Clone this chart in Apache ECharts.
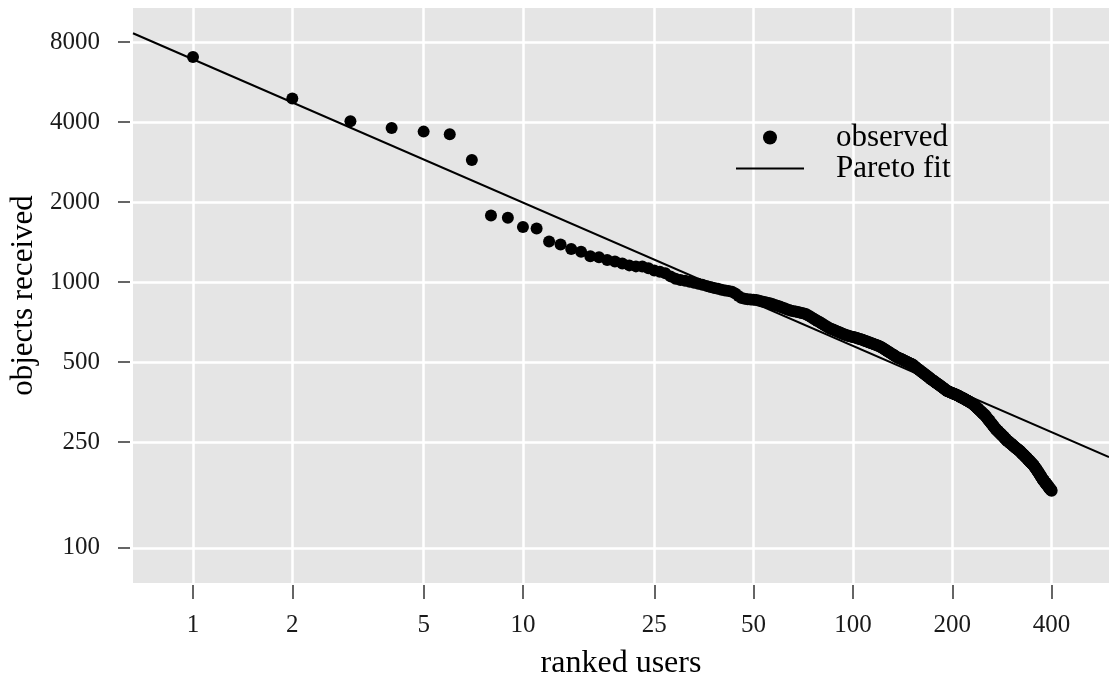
<!DOCTYPE html>
<html>
<head>
<meta charset="utf-8">
<script src="https://cdn.jsdelivr.net/npm/echarts@6/dist/echarts.min.js"></script>
<style>
  html, body { margin: 0; padding: 0; background: #ffffff; }
  #chart { width: 1109px; height: 681px; }
</style>
</head>
<body>
<div id="chart"></div>
<script>
// Objects received per user, users sorted by rank (rank = position + 1)
const objectsReceived = [
  7030, 4900, 4030, 3800, 3680, 3600, 2880, 1780, 1745, 1610,
  1590, 1420, 1385, 1330, 1300, 1250, 1240, 1210, 1195, 1175,
  1155, 1145, 1143, 1126, 1105, 1093, 1078, 1050, 1028, 1018,
  1010, 1002, 993, 985, 976, 967, 958, 950, 943, 936,
  929, 925, 920, 905, 885, 870, 865, 862, 860, 858,
  855, 850, 845, 841, 836, 832, 827, 820, 814, 808,
  802, 796, 790, 784, 780, 777, 774, 771, 768, 765,
  761, 758, 750, 743, 735, 728, 721, 714, 708, 701,
  695, 688, 682, 676, 670, 666, 662, 658, 654, 650,
  647, 643, 639, 636, 632, 630, 627, 625, 623, 621,
  619, 617, 615, 612, 610, 608, 606, 603, 600, 598,
  595, 593, 590, 588, 586, 583, 581, 579, 576, 574,
  571, 568, 564, 561, 557, 554, 550, 547, 544, 540,
  537, 534, 531, 527, 524, 521, 519, 517, 515, 513,
  511, 509, 506, 504, 502, 500, 498, 496, 494, 492,
  490, 488, 484, 481, 478, 475, 472, 469, 467, 464,
  461, 458, 456, 453, 450, 448, 445, 442, 440, 437,
  435, 432, 430, 428, 426, 423, 421, 419, 417, 415,
  413, 411, 409, 407, 405, 403, 401, 399, 397, 395,
  393, 391, 389, 388, 387, 386, 385, 384, 383, 382,
  381, 380, 379, 378, 377, 376, 375, 374, 373, 372,
  370, 369, 368, 367, 366, 365, 364, 363, 361, 360,
  359, 358, 357, 356, 355, 353, 352, 351, 350, 349,
  348, 346, 344, 343, 341, 339, 338, 336, 334, 333,
  331, 329, 328, 326, 325, 323, 321, 320, 318, 317,
  315, 314, 312, 310, 308, 306, 304, 302, 301, 299,
  297, 295, 293, 292, 290, 288, 286, 285, 283, 281,
  280, 278, 277, 276, 275, 273, 272, 271, 270, 269,
  267, 266, 265, 264, 263, 262, 260, 259, 258, 257,
  256, 254, 253, 252, 252, 251, 250, 249, 248, 247,
  247, 246, 245, 244, 243, 242, 241, 241, 240, 239,
  238, 237, 237, 236, 235, 235, 234, 233, 232, 232,
  231, 230, 229, 228, 227, 226, 225, 225, 224, 223,
  222, 221, 220, 219, 219, 218, 217, 216, 215, 214,
  214, 213, 212, 211, 210, 210, 209, 208, 207, 206,
  206, 205, 204, 203, 202, 201, 200, 199, 198, 197,
  196, 195, 194, 193, 192, 191, 190, 189, 188, 187,
  186, 185, 184, 183, 182, 181, 180, 179, 179, 178,
  177, 176, 176, 175, 174, 173, 173, 172, 171, 171,
  170, 169, 168, 168, 167, 166, 166, 165, 165, 164
];

// Pareto fit line, evaluated at both ends of the rank axis
const fitRanks = [0.658, 597];
const fitObjects = [8627, 219.5];

// Axis ranges and tick values
const rankRange = [0.658, 597];
const objectsRange = [73.7, 10740];
const rankTicks = [1, 2, 5, 10, 25, 50, 100, 200, 400];
const objectsTicks = [100, 250, 500, 1000, 2000, 4000, 8000];

const observedPoints = objectsReceived.map((v, i) => [i + 1, v]);
const fitPoints = fitRanks.map((r, i) => [r, fitObjects[i]]);

const serif = 'Liberation Serif';
const plainNumber = v => String(Math.round(v));
const chart = echarts.init(document.getElementById('chart'), null, { renderer: 'canvas' });

chart.setOption({
  animation: false,
  backgroundColor: '#ffffff',
  textStyle: { fontFamily: serif },
  grid: {
    left: 133, right: 0, top: 8, bottom: 98,
    outerBoundsMode: 'none',
    containLabel: false,
    show: true, backgroundColor: '#E5E5E5', borderWidth: 0
  },
  legend: {
    orient: 'vertical',
    left: 731, top: 117,
    itemWidth: 68, itemHeight: 14,
    itemGap: 0,
    selectedMode: false,
    textStyle: { fontFamily: serif, fontSize: 31, color: '#000', lineHeight: 30, padding: [0, 0, 0, 27] },
    data: [
      { name: 'observed', icon: 'circle' },
      { name: 'Pareto fit', icon: 'path://M0,0H68V2H0Z' }
    ]
  },
  xAxis: {
    type: 'log', logBase: 10,
    min: rankRange[0], max: rankRange[1],
    offset: 2,
    name: 'ranked users', nameLocation: 'middle', nameGap: 63,
    nameTextStyle: { fontFamily: serif, fontSize: 32, color: '#000' },
    axisLine: { show: false },
    axisTick: { show: true, length: 14, customValues: rankTicks, lineStyle: { color: '#333', width: 1.5 } },
    axisLabel: { customValues: rankTicks, formatter: plainNumber, margin: 28, fontFamily: serif, fontSize: 25, color: '#1a1a1a' },
    splitLine: { show: true, lineStyle: { color: '#ffffff', width: 2.5 } },
    minorTick: { show: false }, minorSplitLine: { show: false }
  },
  yAxis: {
    type: 'log', logBase: 10,
    min: objectsRange[0], max: objectsRange[1],
    offset: 3,
    name: 'objects received', nameLocation: 'middle', nameGap: 76, nameRotate: 90,
    nameTextStyle: { fontFamily: serif, fontSize: 31, color: '#000' },
    axisLine: { show: false },
    axisTick: { show: true, length: 12, customValues: objectsTicks, lineStyle: { color: '#333', width: 1.5 } },
    axisLabel: { customValues: objectsTicks, formatter: plainNumber, margin: 30, fontFamily: serif, fontSize: 25, color: '#1a1a1a' },
    splitLine: { show: true, lineStyle: { color: '#ffffff', width: 2.5 } },
    minorTick: { show: false }, minorSplitLine: { show: false }
  },
  series: [
    {
      name: 'observed', type: 'scatter',
      data: observedPoints,
      symbol: 'circle', symbolSize: 12,
      itemStyle: { color: '#000000', opacity: 1 },
      z: 3
    },
    {
      name: 'Pareto fit', type: 'line',
      data: fitPoints,
      showSymbol: false, symbol: 'none',
      lineStyle: { color: '#000000', width: 2 },
      itemStyle: { color: '#000000' },
      z: 4
    }
  ]
});
</script>
</body>
</html>
